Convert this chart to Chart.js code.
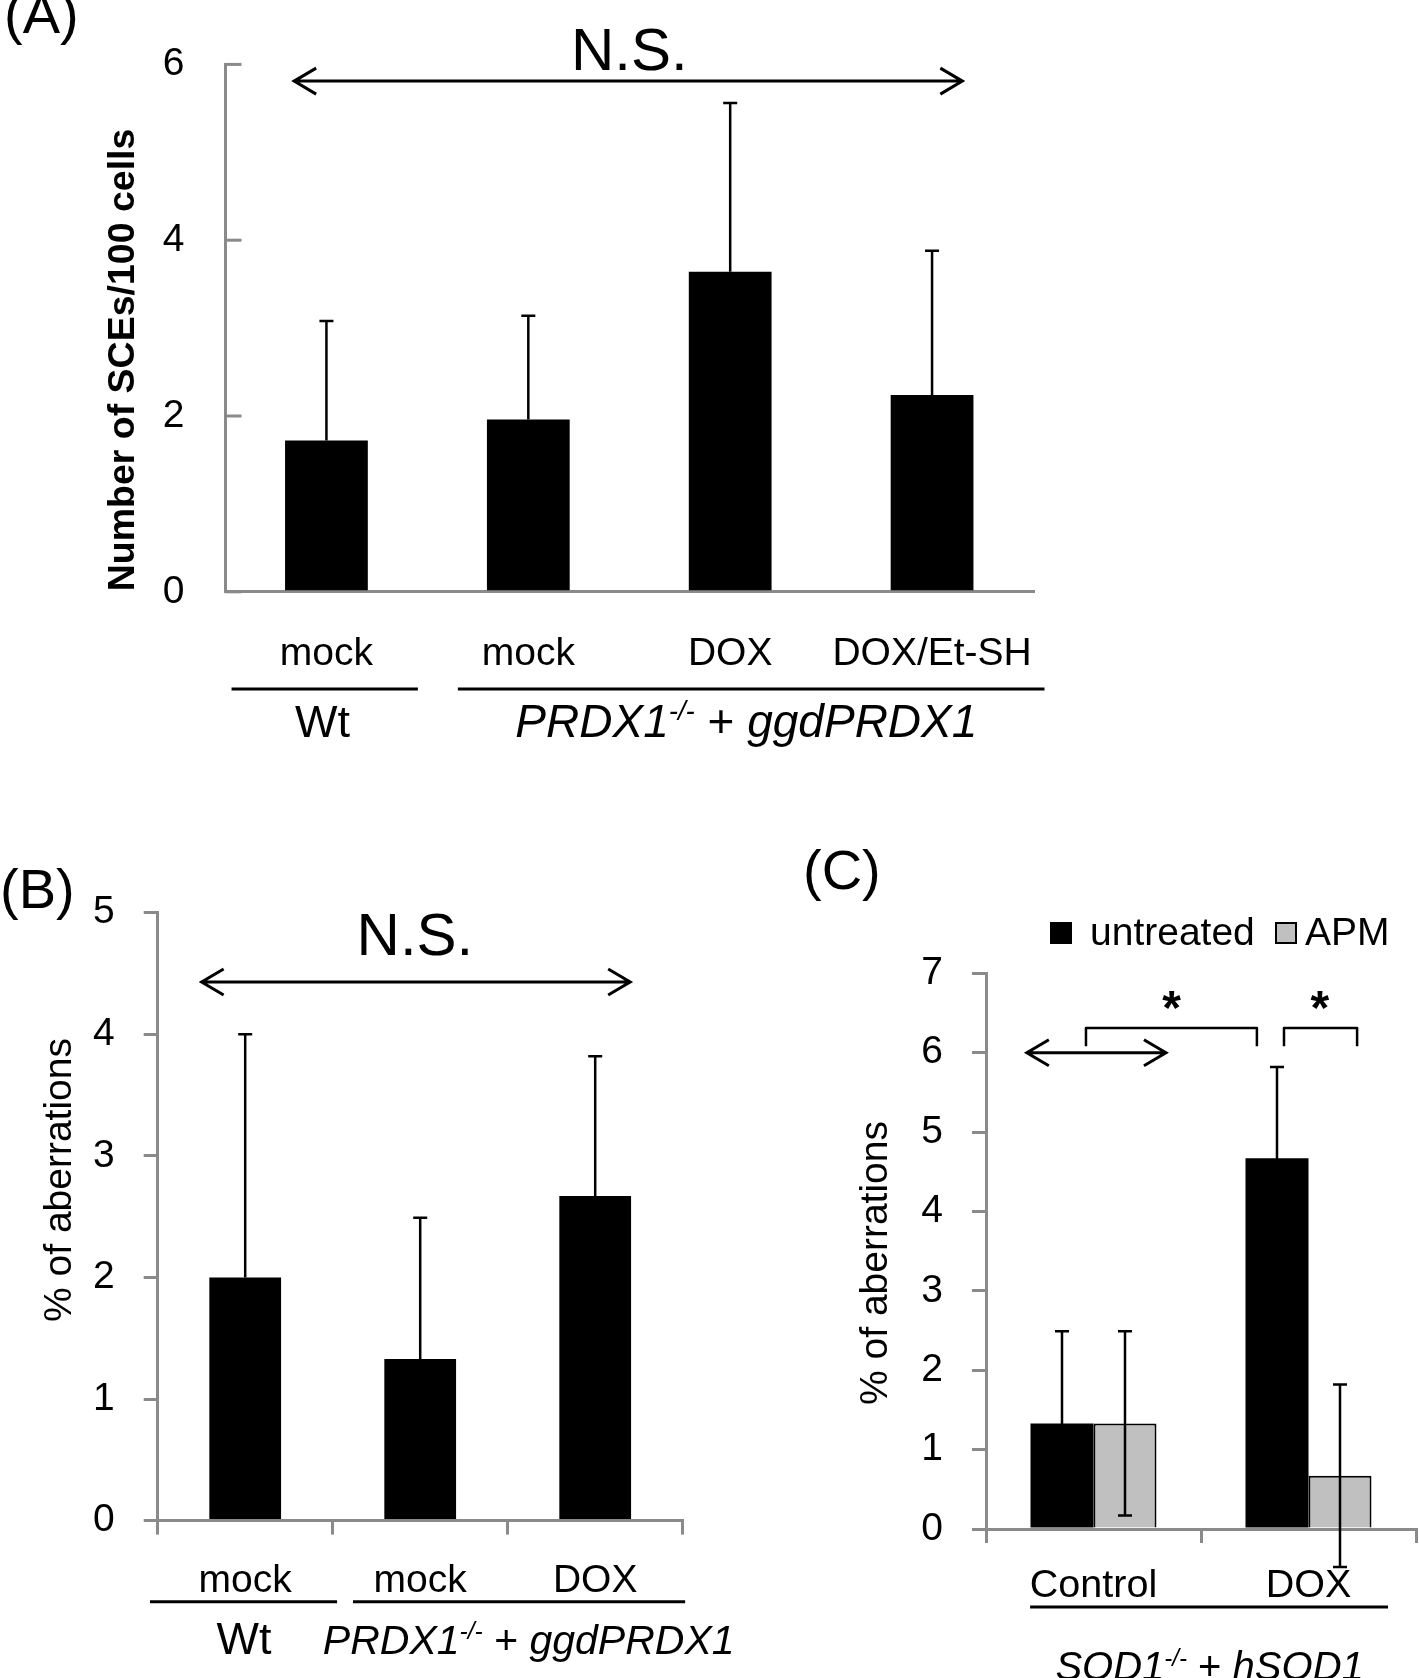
<!DOCTYPE html>
<html>
<head>
<meta charset="utf-8">
<script src="https://cdn.jsdelivr.net/npm/chart.js@4.4.1/dist/chart.umd.min.js"></script>
<style>
    html, body { margin: 0; padding: 0; background: #fff; }
    body { width: 1419px; height: 1678px; position: relative; overflow: hidden; }
    canvas { position: absolute; }
</style>
</head>
<body>
<canvas id="chartA" width="1100" height="790" style="left:0;top:0"></canvas>
<canvas id="chartB" width="760" height="848" style="left:0;top:830px"></canvas>
<canvas id="chartC" width="659" height="848" style="left:760px;top:830px"></canvas>
<script>
// panel A - SCEs
const catsA = ["mock", "mock", "DOX", "DOX/Et-SH"];
const sceMean = [1.72, 1.96, 3.64, 2.24];
const sceSD = [1.36, 1.18, 1.92, 1.64];

// panel B - aberrations
const catsB = ["mock", "mock", "DOX"];
const aberMean = [2.0, 1.33, 2.67];
const aberSD = [2.0, 1.16, 1.15];

// panel C - aberrations, untreated vs APM
const catsC = ["Control", "DOX"];
const untreatedMean = [1.33, 4.67];
const untreatedSD = [1.16, 1.15];
const apmMean = [1.33, 0.67];
const apmSD = [1.16, 1.15];

const genoPRDX = [["PRDX1", true, false], ["-/-", true, true], [" + ", false, false], ["ggdPRDX1", true, false]];
const genoSOD = [["SOD1", true, false], ["-/-", true, true], [" + ", false, false], ["hSOD1", true, false]];

const FONT = '"Liberation Sans", Arial, Helvetica, sans-serif';
const AXIS_GREY = "#8a8a8a";

Chart.defaults.font.family = FONT;
Chart.defaults.color = "#000";

function txt(ctx, s, x, y, size, o = {}) {
    ctx.save();
    ctx.font = (o.italic ? "italic " : "") + (o.bold ? "bold " : "") + size + "px " + FONT;
    ctx.fillStyle = "#000";
    ctx.textAlign = o.align || "center";
    ctx.textBaseline = o.baseline || "alphabetic";
    ctx.translate(x, y);
    if (o.rotate) ctx.rotate(o.rotate);
    ctx.fillText(s, 0, 0);
    ctx.restore();
}

function hline(ctx, x1, x2, y, w) {
    ctx.save();
    ctx.strokeStyle = "#000";
    ctx.lineWidth = w || 3;
    ctx.beginPath();
    ctx.moveTo(x1, y);
    ctx.lineTo(x2, y);
    ctx.stroke();
    ctx.restore();
}

function doubleArrow(ctx, x1, x2, y) {
    ctx.save();
    ctx.strokeStyle = "#000";
    ctx.lineWidth = 3;
    ctx.beginPath();
    ctx.moveTo(x1, y);
    ctx.lineTo(x2, y);
    ctx.moveTo(x1 + 22, y - 13);
    ctx.lineTo(x1, y);
    ctx.lineTo(x1 + 22, y + 13);
    ctx.moveTo(x2 - 22, y - 13);
    ctx.lineTo(x2, y);
    ctx.lineTo(x2 - 22, y + 13);
    ctx.stroke();
    ctx.restore();
}

function bracket(ctx, x1, x2, yTop, yDrop) {
    ctx.save();
    ctx.strokeStyle = "#000";
    ctx.lineWidth = 2.5;
    ctx.lineJoin = "round";
    ctx.beginPath();
    ctx.moveTo(x1, yDrop);
    ctx.lineTo(x1, yTop);
    ctx.lineTo(x2, yTop);
    ctx.lineTo(x2, yDrop);
    ctx.stroke();
    ctx.restore();
}

function genotype(ctx, segs, cx, y, size) {
    ctx.save();
    const fontOf = s => (s[1] ? "italic " : "") + (s[2] ? size * 0.6 : size) + "px " + FONT;
    let total = 0;
    segs.forEach(s => { ctx.font = fontOf(s); total += ctx.measureText(s[0]).width; });
    let x = cx - total / 2;
    ctx.textAlign = "left";
    ctx.textBaseline = "alphabetic";
    ctx.fillStyle = "#000";
    segs.forEach(s => {
        ctx.font = fontOf(s);
        ctx.fillText(s[0], x, s[2] ? y - size * 0.36 : y);
        x += ctx.measureText(s[0]).width;
    });
    ctx.restore();
}

// error bars: upward only unless the dataset asks for both directions
const errorBars = {
    id: "errorBars",
    afterDatasetsDraw(chart) {
        const ctx = chart.ctx;
        const ys = chart.scales.y;
        chart.data.datasets.forEach((ds, di) => {
            chart.getDatasetMeta(di).data.forEach((bar, i) => {
                const top = ys.getPixelForValue(ds.data[i] + ds.sd[i]);
                const bot = ds.errBoth ? ys.getPixelForValue(ds.data[i] - ds.sd[i]) : bar.y;
                ctx.save();
                ctx.strokeStyle = "#000";
                ctx.lineWidth = 2.5;
                ctx.beginPath();
                ctx.moveTo(bar.x, top);
                ctx.lineTo(bar.x, bot);
                ctx.moveTo(bar.x - 7, top);
                ctx.lineTo(bar.x + 7, top);
                if (ds.errBoth) {
                    ctx.moveTo(bar.x - 7, bot);
                    ctx.lineTo(bar.x + 7, bot);
                }
                ctx.stroke();
                ctx.restore();
            });
        });
    }
};

function baseOptions(o) {
    return {
        responsive: false,
        animation: false,
        layout: { padding: o.padding },
        plugins: { legend: { display: false }, tooltip: { enabled: false } },
        scales: {
            x: {
                grid: { display: true, drawOnChartArea: false, drawTicks: o.xTicks, tickLength: 14, color: AXIS_GREY, lineWidth: 3, offset: true },
                border: { color: AXIS_GREY, width: 3 },
                ticks: { display: false },
                afterFit: s => { s.height = o.xHeight; }
            },
            y: {
                min: 0,
                max: o.yMax,
                grid: { display: true, drawOnChartArea: false, drawTicks: o.yTicks, tickLength: 14, color: AXIS_GREY, lineWidth: 3 },
                border: { color: AXIS_GREY, width: 3 },
                ticks: { stepSize: o.step, padding: o.tickPad, color: "#000", font: { family: FONT, size: 39 } },
                afterFit: s => { s.width = o.yWidth; }
            }
        }
    };
}

// ---- (A)
new Chart(document.getElementById("chartA"), {
    type: "bar",
    data: {
        labels: catsA,
        datasets: [{ data: sceMean, sd: sceSD, backgroundColor: "#000", categoryPercentage: 0.41, barPercentage: 1 }]
    },
    options: baseOptions({ padding: { left: 0, top: 55, right: 67, bottom: 0 }, xHeight: 198.2, yWidth: 225.5, yMax: 6, step: 2, tickPad: 41, xTicks: false, yTicks: false }),
    plugins: [errorBars, {
        id: "panelA",
        afterDraw(chart) {
            const ctx = chart.ctx, xs = chart.scales.x, ys = chart.scales.y, area = chart.chartArea;
            // inward tick marks
            ctx.save();
            ctx.strokeStyle = AXIS_GREY;
            ctx.lineWidth = 3;
            ys.ticks.forEach(t => {
                const y = ys.getPixelForValue(t.value);
                ctx.beginPath();
                ctx.moveTo(area.left, y);
                ctx.lineTo(area.left + 16, y);
                ctx.stroke();
            });
            ctx.restore();
            txt(ctx, "(A)", 4, 33, 56, { align: "left" });
            txt(ctx, "Number of SCEs/100 cells", 134, 360, 37.5, { bold: true, rotate: -Math.PI / 2 });
            txt(ctx, "N.S.", xs.getPixelForValue(1.5), ys.getPixelForValue(5.94), 60);
            doubleArrow(ctx, xs.getPixelForValue(-0.16), xs.getPixelForValue(3.15), ys.getPixelForValue(5.81));
            catsA.forEach((c, i) => txt(ctx, c, xs.getPixelForValue(i), 664.6, 39));
            hline(ctx, xs.getPixelForValue(-0.47), xs.getPixelForValue(0.453), 689);
            hline(ctx, xs.getPixelForValue(0.651), xs.getPixelForValue(3.557), 689);
            txt(ctx, "Wt", xs.getPixelForValue(-0.02), 737, 45);
            genotype(ctx, genoPRDX, xs.getPixelForValue(2.08), 737, 46);
        }
    }]
});

// ---- (B)
new Chart(document.getElementById("chartB"), {
    type: "bar",
    data: {
        labels: catsB,
        datasets: [{ data: aberMean, sd: aberSD, backgroundColor: "#000", categoryPercentage: 0.41, barPercentage: 1 }]
    },
    options: baseOptions({ padding: { left: 0, top: 82.7, right: 77.3, bottom: 0 }, xHeight: 157.4, yWidth: 157.7, yMax: 5, step: 1, tickPad: 29, xTicks: true, yTicks: true }),
    plugins: [errorBars, {
        id: "panelB",
        afterDraw(chart) {
            const ctx = chart.ctx, xs = chart.scales.x, ys = chart.scales.y;
            txt(ctx, "(B)", 0, 78, 56, { align: "left" });
            txt(ctx, "% of aberrations", 71, 350, 39, { rotate: -Math.PI / 2 });
            txt(ctx, "N.S.", xs.getPixelForValue(0.97), ys.getPixelForValue(4.65), 60);
            doubleArrow(ctx, xs.getPixelForValue(-0.249), xs.getPixelForValue(2.2), ys.getPixelForValue(4.43));
            catsB.forEach((c, i) => txt(ctx, c, xs.getPixelForValue(i), 761.7, 39));
            hline(ctx, xs.getPixelForValue(-0.544), xs.getPixelForValue(0.525), 771.7);
            hline(ctx, xs.getPixelForValue(0.616), xs.getPixelForValue(2.514), 771.7);
            txt(ctx, "Wt", xs.getPixelForValue(-0.007), 824, 45);
            genotype(ctx, genoPRDX, xs.getPixelForValue(1.62), 824, 41);
        }
    }]
});

// ---- (C)
new Chart(document.getElementById("chartC"), {
    type: "bar",
    data: {
        labels: catsC,
        datasets: [
            { label: "untreated", data: untreatedMean, sd: untreatedSD, errBoth: true, backgroundColor: "#000", categoryPercentage: 0.586, barPercentage: 1 },
            { label: "APM", data: apmMean, sd: apmSD, errBoth: true, backgroundColor: "#c0c0c0", borderColor: "#000", borderWidth: 2, categoryPercentage: 0.586, barPercentage: 1 }
        ]
    },
    options: baseOptions({ padding: { left: 0, top: 143.3, right: 3, bottom: 0 }, xHeight: 149, yWidth: 226, yMax: 7, step: 1, tickPad: 29, xTicks: true, yTicks: true }),
    plugins: [errorBars, {
        id: "panelC",
        afterDraw(chart) {
            const ctx = chart.ctx, xs = chart.scales.x, ys = chart.scales.y;
            txt(ctx, "(C)", 43, 59, 56, { align: "left" });
            txt(ctx, "% of aberrations", 127, 433, 39, { rotate: -Math.PI / 2 });

            // legend
            const boxX = [290, 515], textX = [330, 545];
            chart.data.datasets.forEach((ds, i) => {
                ctx.save();
                ctx.fillStyle = ds.backgroundColor;
                ctx.fillRect(boxX[i], 92, 22, 22);
                if (ds.borderColor) {
                    ctx.strokeStyle = ds.borderColor;
                    ctx.lineWidth = 2;
                    ctx.strokeRect(boxX[i] + 1, 93, 20, 20);
                }
                ctx.restore();
                txt(ctx, ds.label, textX[i], 115, 39, { align: "left" });
            });

            // significance marks
            const yTop = ys.getPixelForValue(6.31), yDrop = ys.getPixelForValue(6.08);
            bracket(ctx, xs.getPixelForValue(-0.035), xs.getPixelForValue(0.76), yTop, yDrop);
            bracket(ctx, xs.getPixelForValue(0.886), xs.getPixelForValue(1.226), yTop, yDrop);
            const starY = ys.getPixelForValue(6.7) + 48 * 0.55;
            txt(ctx, "*", xs.getPixelForValue(0.363), starY, 48, { bold: true });
            txt(ctx, "*", xs.getPixelForValue(1.053), starY, 48, { bold: true });
            doubleArrow(ctx, xs.getPixelForValue(-0.31), xs.getPixelForValue(0.337), ys.getPixelForValue(6));

            catsC.forEach((c, i) => txt(ctx, c, xs.getPixelForValue(i), 767, 39.5));
            hline(ctx, xs.getPixelForValue(-0.295), xs.getPixelForValue(1.37), 777);
            genotype(ctx, genoSOD, xs.getPixelForValue(0.54), 850, 40);
        }
    }]
});
</script>
</body>
</html>
